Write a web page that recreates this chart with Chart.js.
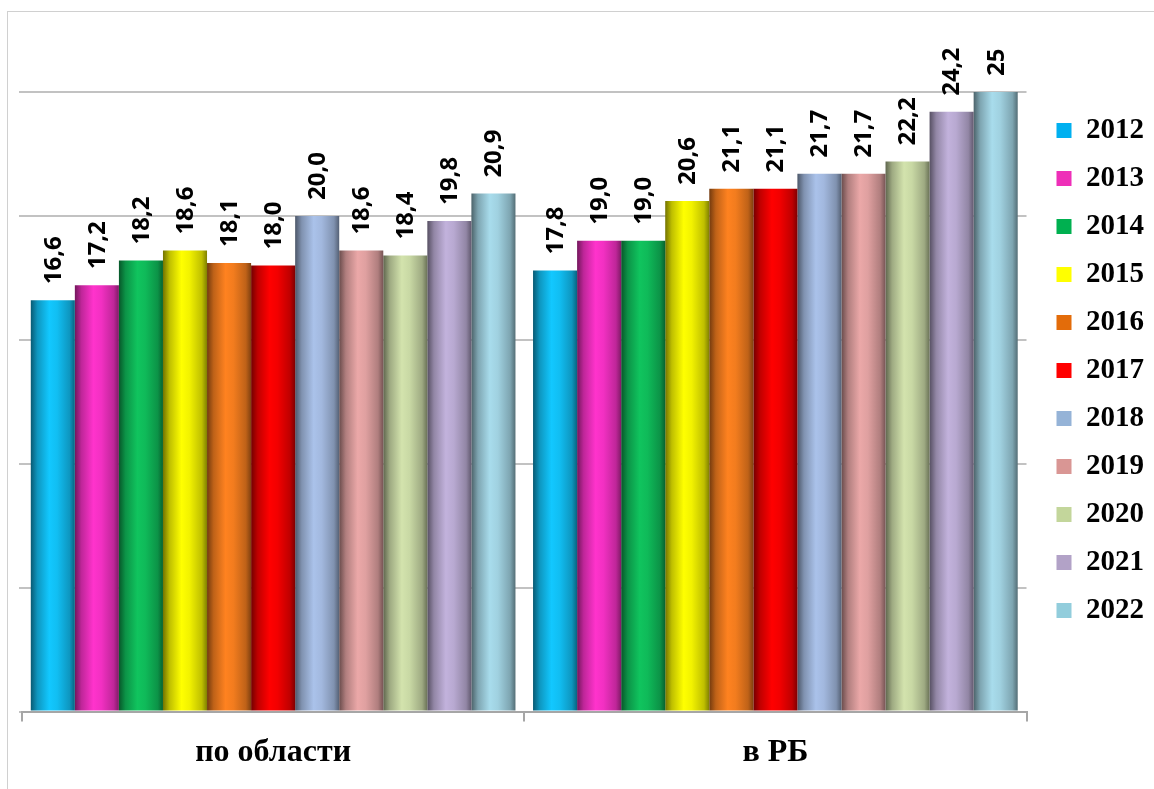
<!DOCTYPE html>
<html>
<head>
<meta charset="utf-8">
<script src="https://cdn.jsdelivr.net/npm/chart.js@4.4.1/dist/chart.umd.min.js"></script>
<style>
  html, body { margin: 0; padding: 0; background: #fff; }
  #wrap { width: 1154px; height: 789px; }
</style>
</head>
<body>
<div id="wrap"><canvas id="chart" width="1154" height="789"></canvas></div>
<script>
const years = ['2012', '2013', '2014', '2015', '2016', '2017', '2018', '2019', '2020', '2021', '2022']
const categories = ['по области', 'в РБ']
const regionValues = [16.6, 17.2, 18.2, 18.6, 18.1, 18.0, 20.0, 18.6, 18.4, 19.8, 20.9]
const rbValues = [17.8, 19.0, 19.0, 20.6, 21.1, 21.1, 21.7, 21.7, 22.2, 24.2, 25]
const regionText = ['16,6', '17,2', '18,2', '18,6', '18,1', '18,0', '20,0', '18,6', '18,4', '19,8', '20,9']
const rbText = ['17,8', '19,0', '19,0', '20,6', '21,1', '21,1', '21,7', '21,7', '22,2', '24,2', '25']
const legendColors = ['#00b0f0', '#ee2fb8', '#00b050', '#ffff00', '#e36c0a', '#ff0000',
  '#95b3d7', '#d99694', '#c3d69b', '#b2a2c7', '#92cddc']
const barColors = ['#12c8ff', '#ff33cc', '#10c45e', '#ffff00', '#ff8220', '#ff0000',
  '#aac2ea', '#eba8a8', '#d3e3ad', '#c2b2dc', '#a8dcec']

function shade(hex, f) {
  const n = parseInt(hex.slice(1), 16)
  let r = n >> 16, g = (n >> 8) & 255, b = n & 255
  r = Math.round(r * (1 + f)); g = Math.round(g * (1 + f)); b = Math.round(b * (1 + f))
  const c = v => Math.max(0, Math.min(255, v))
  return `rgb(${c(r)},${c(g)},${c(b)})`
}

// cylinder-like shading of every bar
const cylinderPlugin = {
  id: 'cylinder',
  beforeDatasetsDraw(chart) {
    const ctx = chart.ctx
    chart.data.datasets.forEach((ds, i) => {
      const meta = chart.getDatasetMeta(i)
      meta.data.forEach(bar => {
        const { x, width } = bar.getProps(['x', 'width'], true)
        const base = barColors[i]
        const g = ctx.createLinearGradient(x - width / 2, 0, x + width / 2, 0)
        g.addColorStop(0, shade(base, -0.55))
        g.addColorStop(0.15, shade(base, -0.25))
        g.addColorStop(0.42, base)
        g.addColorStop(0.6, shade(base, -0.05))
        g.addColorStop(0.88, shade(base, -0.25))
        g.addColorStop(1, shade(base, -0.5))
        bar.options = Object.assign({}, bar.options, { backgroundColor: g })
      })
    })
  }
}

// rotated value labels above bars
const valueLabels = {
  id: 'valueLabels',
  afterDatasetsDraw(chart) {
    const ctx = chart.ctx
    ctx.save()
    ctx.font = "bold 24px 'Open Sans'"
    ctx.fillStyle = '#000'
    ctx.textAlign = 'left'
    ctx.textBaseline = 'middle'
    chart.data.datasets.forEach((ds, i) => {
      chart.getDatasetMeta(i).data.forEach((bar, j) => {
        const txt = j === 0 ? regionText[i] : rbText[i]
        ctx.save()
        ctx.translate(bar.x + 1, bar.y - 16)
        ctx.rotate(-Math.PI / 2)
        ctx.fillText(txt, 0, 0)
        ctx.restore()
      })
    })
    ctx.restore()
  }
}

const frame = {
  id: 'frame',
  beforeDraw(chart) {
    const ctx = chart.ctx
    ctx.save()
    ctx.fillStyle = '#fff'
    ctx.fillRect(0, 0, chart.width, chart.height)
    ctx.strokeStyle = '#d0d0d0'
    ctx.lineWidth = 1
    ctx.strokeRect(7.5, 11.5, 1200, 800)
    ctx.restore()
  }
}

const datasets = years.map((y, i) => ({
  label: y,
  data: [regionValues[i], rbValues[i]],
  backgroundColor: () => legendColors[i],
  borderWidth: 0,
  categoryPercentage: 0.965,
  barPercentage: 1
}))

new Chart(document.getElementById('chart'), {
  type: 'bar',
  data: { labels: categories, datasets },
  options: {
    responsive: false,
    animation: false,
    layout: { padding: { top: 92, left: 19, right: 0, bottom: 5 } },
    plugins: {
      tooltip: { enabled: false },
      legend: {
        position: 'right',
        align: 'start',
        title: { display: true, text: '', font: { size: 5, lineHeight: 1 }, padding: 0 },
        labels: {
          boxWidth: 15,
          boxHeight: 15,
          padding: 19,
          color: '#000',
          font: { family: 'Liberation Serif', weight: 'bold', size: 29 }
        }
      }
    },
    scales: {
      x: {
        grid: { drawOnChartArea: false, tickLength: 10, color: '#a6a6a6', lineWidth: 2 },
        border: { color: '#a6a6a6', width: 2 },
        ticks: {
          color: '#000',
          padding: 12,
          font: { family: 'Liberation Serif', weight: 'bold', size: 32 }
        }
      },
      y: {
        min: 0,
        max: 25,
        ticks: { display: false, stepSize: 5 },
        grid: { color: '#c2c2c2', lineWidth: 2, tickLength: 3 },
        border: { display: false }
      },
      y2: {
        type: 'linear',
        position: 'right',
        grid: { display: false, drawTicks: false },
        ticks: { display: false },
        border: { display: false },
        afterFit(scale) { scale.width = 11 }
      }
    }
  },
  plugins: [frame, cylinderPlugin, valueLabels]
})
</script>
</body>
</html>
